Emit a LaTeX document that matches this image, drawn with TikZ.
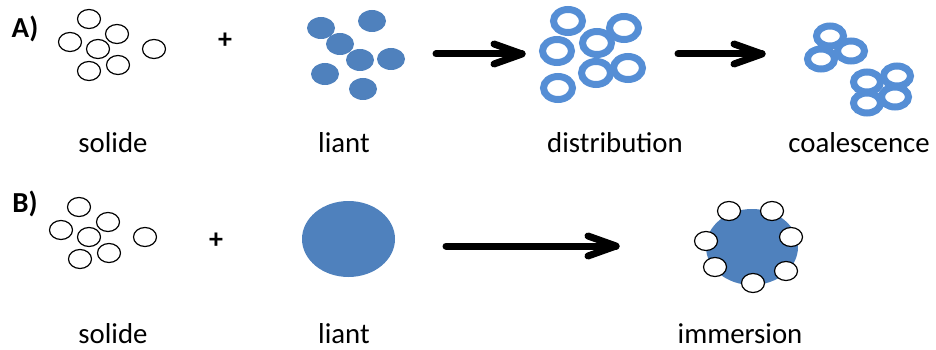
\documentclass[tikz,border=0pt]{standalone}
\usepackage{fontspec}
\setmainfont{Carlito}
\definecolor{blobblue}{HTML}{4F81BD}
\definecolor{ringblue}{HTML}{558ED5}
\begin{document}
\begin{tikzpicture}[x=1pt,y=-1pt,
  lbl/.style={font=\fontsize{28.8}{30}\selectfont, anchor=base, inner sep=0pt},
  tag/.style={font=\fontsize{29}{31}\selectfont\bfseries, inner sep=0pt},
  plus/.style={font=\fontsize{28}{30}\selectfont\bfseries, inner sep=0pt},
  grain/.style={draw=black, line width=1.2pt, fill=white},
  blob/.style={fill=blobblue},
  ring/.style={draw=ringblue, line width=7pt},
  bigarrow/.style={line width=7pt, line cap=round, line join=round}]
\useasboundingbox (0,0) rectangle (936,350);

% ---------- Row A ----------
\node[tag] (tA) at (25,29) {A)};
\foreach \x/\y in {89/19,117/34,70/42,98/49,154/49,118/65,89/71}
  \draw[grain] (\x,\y) ellipse [x radius=11.5, y radius=9.5];
\node[plus] (pA) at (225,41) {+};
\foreach \x/\y in {321/28,372/21,340/44,360/60,391/59,325/74,363/89}
  \fill[blob] (\x,\y) ellipse [x radius=14, y radius=11];

\coordinate (a1s) at (436,54);
\coordinate (a1t) at (522,54);
\draw[bigarrow] (a1s) -- (a1t);
\draw[bigarrow] ([xshift=-28,yshift=-10]a1t) -- (a1t) -- ([xshift=-28,yshift=10]a1t);

\foreach \x/\y in {568/21,624/28,597/43,557/51,628/68,596/73,558/88}
  \draw[ring] (\x,\y) ellipse [x radius=14.5, y radius=11.5];

\coordinate (a2s) at (678,54);
\coordinate (a2t) at (762,54);
\draw[bigarrow] (a2s) -- (a2t);
\draw[bigarrow] ([xshift=-28,yshift=-10]a2t) -- (a2t) -- ([xshift=-28,yshift=10]a2t);

\foreach \x/\y in {830/36,851/51,821/59,867/82,897/76,867/103,895/97}
  \draw[ring] (\x,\y) ellipse [x radius=13.5, y radius=10];

\node[lbl] (l1) at (113,152) {solide};
\node[lbl] (l2) at (344,152) {liant};
\node[lbl] (l3) at (615,152) {distribution};
\node[lbl] (l4) at (859,152) {coalescence};

% ---------- Row B ----------
\node[tag] (tB) at (25,204) {B)};
\foreach \x/\y in {79/207,108/222,61/230,89/237,145/237,109/253,80/259}
  \draw[grain] (\x,\y) ellipse [x radius=11.5, y radius=9.5];
\node[plus] (pB) at (216,241) {+};
\fill[blob] (348.5,239) ellipse [x radius=46.5, y radius=38];

\coordinate (b1s) at (446,246);
\coordinate (b1t) at (616,246);
\draw[bigarrow] (b1s) -- (b1t);
\draw[bigarrow] ([xshift=-28,yshift=-10]b1t) -- (b1t) -- ([xshift=-28,yshift=10]b1t);

\fill[blob] (752,247) ellipse [x radius=46, y radius=38];
\foreach \x/\y in {729/211,772/211,706/241,791/237,715/267,786/271,753/283}
  \draw[grain] (\x,\y) ellipse [x radius=11.5, y radius=9.5];

\node[lbl] (l5) at (113,343) {solide};
\node[lbl] (l6) at (344,343) {liant};
\node[lbl] (l7) at (740,343) {immersion};
\end{tikzpicture}
\end{document}
